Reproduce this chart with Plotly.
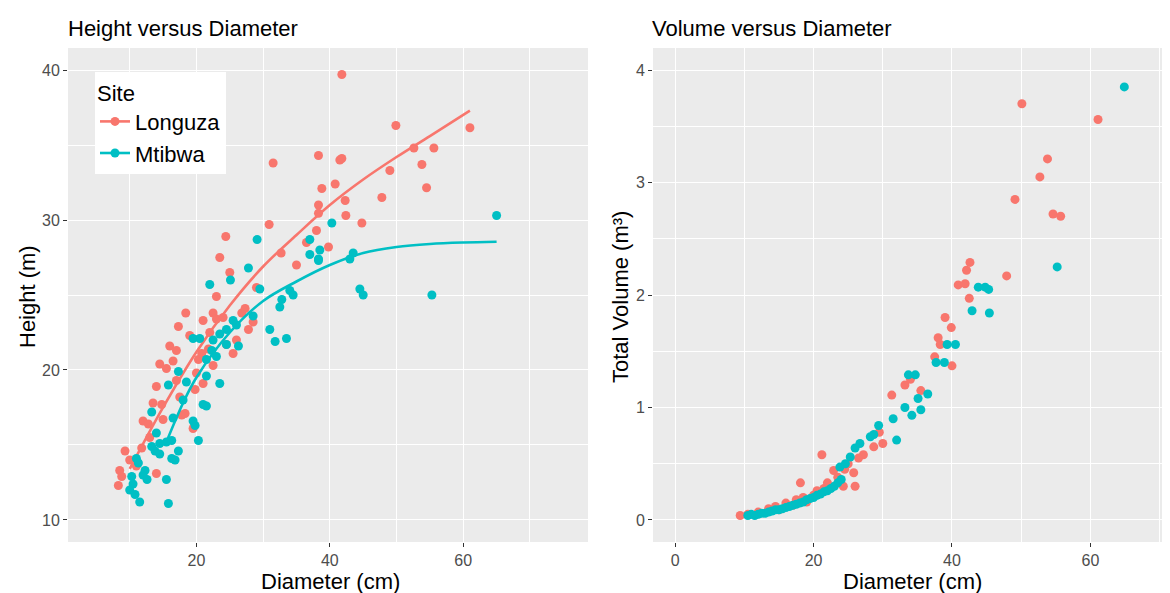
import plotly.graph_objects as go

# ---------------- data ----------------
longuza_diam = [41.8, 49.9, 61.0, 38.3, 41.5, 41.8, 52.6, 55.6, 53.8, 49.0, 38.8, 40.8, 54.5, 47.8,
                38.3, 38.3, 42.3, 42.4, 44.8, 38.0, 39.8, 31.5, 30.9, 24.4, 23.5, 32.7, 23.0, 18.4,
                21.0, 22.5, 23.0, 17.3, 26.8, 27.3, 28.5, 27.8, 16.0, 17.0, 14.5, 15.5, 20.3, 20.8,
                21.8, 25.5, 14.0, 19.8, 21.0, 17.5, 14.8, 12.0, 12.8, 17.8, 18.3, 15.0, 19.5, 9.3,
                11.8, 8.5, 8.8, 8.3, 14.0, 20.0, 22.0, 16.5, 19.0, 24.0, 26.0, 17.0, 13.0, 10.0,
                11.0, 13.5, 22.5, 24.5, 29.0, 35.0, 36.5, 25.0]
longuza_height = [39.7, 36.3, 36.15, 34.3, 34.0, 34.1, 34.8, 34.8, 33.7, 33.3, 32.1, 32.4, 32.15, 31.5,
                  31.0, 30.45, 31.3, 30.3, 29.8, 29.3, 28.2, 33.8, 29.7, 28.9, 27.5, 27.8, 24.9, 23.8,
                  23.3, 23.8, 23.4, 22.9, 23.8, 24.1, 23.2, 22.7, 21.6, 21.3, 20.4, 20.1, 20.7, 21.1,
                  21.4, 21.1, 18.9, 18.7, 19.1, 18.2, 17.7, 16.6, 16.4, 17.0, 17.1, 16.7, 16.1, 14.6,
                  14.8, 13.3, 12.9, 12.3, 13.1, 19.8, 22.5, 20.6, 22.3, 23.5, 22.0, 19.3, 15.5, 14.0,
                  13.6, 17.8, 20.3, 21.7, 25.5, 27.0, 28.5, 26.5]

mtibwa_diam = [27.8, 25.1, 22.0, 29.5, 34.0, 34.5, 32.8, 32.5, 37.0, 38.3, 31.0, 31.8, 33.5, 25.5,
               24.5, 23.5, 19.5, 20.5, 22.5, 22.3, 23.0, 21.5, 24.5, 26.3, 17.3, 18.5, 15.8, 21.5,
               23.5, 21.0, 21.5, 19.5, 19.8, 20.3, 13.3, 13.3, 14.5, 15.5, 16.3, 13.8, 14.5, 17.3,
               16.3, 16.8, 11.0, 11.3, 12.3, 12.6, 10.3, 10.5, 10.0, 10.8, 11.5, 15.5, 15.8, 40.3,
               37.0, 38.5, 38.3, 43.5, 43.0, 44.5, 45.0, 55.3, 65.0, 29.1, 18.0, 16.5, 12.0, 14.0,
               26.0, 28.5]
mtibwa_height = [26.8, 26.0, 25.7, 25.4, 25.3, 25.0, 24.7, 24.2, 27.7, 27.3, 22.7, 21.9, 22.1, 23.3,
                 22.7, 22.4, 22.1, 22.1, 22.0, 21.3, 20.9, 20.7, 21.7, 21.6, 19.9, 19.2, 19.0, 19.6,
                 19.1, 17.7, 17.6, 16.6, 16.3, 15.3, 17.2, 14.9, 15.1, 15.2, 15.3, 14.6, 14.4, 14.6,
                 14.1, 14.0, 14.1, 13.8, 13.3, 12.7, 12.9, 12.4, 12.0, 11.7, 11.2, 12.7, 11.1, 29.8,
                 28.7, 28.0, 27.4, 27.8, 27.4, 25.4, 25.0, 25.0, 30.3, 28.7, 18.0, 16.8, 13.0, 15.8,
                 23.0, 23.6]

# fitted curves (read at several diameters)
longuza_fit_d = [10, 15, 20, 25, 30, 35, 40, 45, 50, 55, 61]
longuza_fit_h = [13.4, 17.5, 21.2, 24.3, 26.9, 29.0, 31.0, 32.7, 34.2, 35.6, 37.3]
mtibwa_fit_d = [15.5, 18, 20, 25, 30, 35, 40, 45, 50, 55, 60, 65]
mtibwa_fit_h = [15.2, 17.8, 19.5, 22.5, 24.6, 25.9, 27.0, 27.8, 28.2, 28.4, 28.5, 28.55]

# volume panel
vol_longuza_d = [50.1, 61.1, 53.8, 52.7, 49.1, 54.6, 55.7, 42.6, 42.1, 47.9, 40.9, 41.9, 42.5, 39.0,
                 39.9, 38.3, 40.0, 33.2, 31.3, 28.7, 27.2, 25.8, 26.0, 24.3, 21.2, 18.1, 22.9, 9.4,
                 10.5, 12.0, 13.5, 14.5, 15.0, 16.0, 17.0, 17.5, 18.5, 19.0, 20.0, 20.5, 21.5, 22.0,
                 23.5, 24.5, 25.0, 26.5, 29.5, 30.0, 34.0, 35.5, 37.5, 38.0]
vol_longuza_v = [3.70, 3.56, 3.21, 3.05, 2.85, 2.72, 2.70, 2.29, 2.22, 2.17, 2.09, 2.10, 1.97, 1.80,
                 1.71, 1.56, 1.37, 1.20, 1.11, 0.65, 0.58, 0.42, 0.30, 0.30, 0.58, 0.33, 0.44, 0.04,
                 0.05, 0.07, 0.10, 0.12, 0.09, 0.15, 0.13, 0.18, 0.20, 0.16, 0.22, 0.26, 0.28, 0.33,
                 0.38, 0.45, 0.50, 0.55, 0.78, 0.68, 1.25, 1.15, 1.45, 1.62]
vol_mtibwa_d = [64.9, 55.2, 43.8, 44.8, 45.3, 42.9, 45.4, 40.5, 39.3, 37.7, 38.9, 33.7, 34.7, 33.2,
                35.1, 34.2, 31.5, 32.0, 29.4, 28.7, 28.2, 26.7, 26.0, 25.3, 24.6, 23.8, 10.5, 11.0,
                11.5, 12.0, 12.5, 13.0, 13.5, 14.0, 14.5, 15.0, 15.5, 16.0, 16.5, 17.0, 17.5, 18.0,
                18.5, 19.0, 19.5, 20.0, 20.5, 21.0, 21.5, 22.0, 22.5, 23.0, 23.5, 24.0, 35.5, 36.5]
vol_mtibwa_v = [3.85, 2.25, 2.07, 2.07, 2.05, 1.86, 1.84, 1.56, 1.56, 1.40, 1.40, 1.29, 1.29, 1.00,
                1.08, 0.93, 0.90, 0.71, 0.84, 0.76, 0.74, 0.68, 0.64, 0.56, 0.50, 0.47, 0.04, 0.05,
                0.04, 0.05, 0.06, 0.06, 0.07, 0.08, 0.09, 0.09, 0.10, 0.11, 0.12, 0.13, 0.14, 0.15,
                0.16, 0.18, 0.19, 0.20, 0.22, 0.23, 0.25, 0.26, 0.28, 0.30, 0.33, 0.36, 0.98, 1.12]

sites = ["Longuza", "Mtibwa"]
colors = ["#F8766D", "#00BFC4"]

# ---------------- figure ----------------
OFF = 8  # page body margin of the html output
W, H = 1170 - OFF, 593 - OFF
ML, MR, MT, MB = 68 - OFF, 0, 48 - OFF, 51
PW = W - ML - MR
PH = H - MT - MB


def px_x(p):
    return (p - OFF - ML) / PW


def px_y(p):
    return (H - MB - (p - OFF)) / PH


fig = go.Figure()
MS = 9
for name, col, d, h, fd, fh in [
    (sites[0], colors[0], longuza_diam, longuza_height, longuza_fit_d, longuza_fit_h),
    (sites[1], colors[1], mtibwa_diam, mtibwa_height, mtibwa_fit_d, mtibwa_fit_h),
]:
    fig.add_trace(go.Scatter(x=d, y=h, mode="markers", marker=dict(size=MS, color=col),
                             showlegend=False, xaxis="x", yaxis="y"))
    fig.add_trace(go.Scatter(x=fd, y=fh, mode="lines", line=dict(color=col, width=2.6, shape="spline"),
                             showlegend=False, xaxis="x", yaxis="y"))

for name, col, d, v in [
    (sites[0], colors[0], vol_longuza_d, vol_longuza_v),
    (sites[1], colors[1], vol_mtibwa_d, vol_mtibwa_v),
]:
    fig.add_trace(go.Scatter(x=d, y=v, mode="markers", marker=dict(size=MS, color=col),
                             showlegend=False, xaxis="x2", yaxis="y2"))

# legend entries
for name, col in zip(sites, colors):
    fig.add_trace(go.Scatter(x=[None], y=[None], mode="lines+markers", name=name,
                             marker=dict(size=MS, color=col), line=dict(color=col, width=2.6),
                             xaxis="x", yaxis="y"))

FAM = "Liberation Sans, Arial, sans-serif"
tickfont = dict(family=FAM, size=16, color="#4D4D4D")
common = dict(showgrid=True, gridcolor="white", gridwidth=1.4, zeroline=False,
              ticks="outside", ticklen=4, tickcolor="#333333", tickwidth=1,
              tickfont=tickfont, showline=False)

lx = 520 / PW
rx0 = (653 - OFF - ML) / PW
fig.update_layout(
    width=W, height=H,
    margin=dict(l=ML, r=MR, t=MT, b=MB),
    paper_bgcolor="white", plot_bgcolor="#EBEBEB",
    font=dict(family=FAM, color="black"),
    xaxis=dict(domain=[0, lx], range=[0.75, 78.7], tickvals=[20, 40, 60], anchor="y",
               minor=dict(tickvals=[10, 30, 50, 70], showgrid=True, gridcolor="white", gridwidth=0.7, ticks=""),
               **common),
    yaxis=dict(domain=[0, 1], range=[8.53, 41.47], tickvals=[10, 20, 30, 40], anchor="x",
               minor=dict(tickvals=[15, 25, 35], showgrid=True, gridcolor="white", gridwidth=0.7, ticks=""),
               **common),
    xaxis2=dict(domain=[rx0, 1], range=[-3.2, 71.5], tickvals=[0, 20, 40, 60], anchor="y2",
                minor=dict(tickvals=[10, 30, 50, 70], showgrid=True, gridcolor="white", gridwidth=0.7, ticks=""),
                **common),
    yaxis2=dict(domain=[0, 1], range=[-0.196, 4.196], tickvals=[0, 1, 2, 3, 4], anchor="x2",
                minor=dict(tickvals=[0.5, 1.5, 2.5, 3.5], showgrid=True, gridcolor="white", gridwidth=0.7, ticks=""),
                **common),
    legend=dict(x=px_x(95), y=px_y(72), xanchor="left", yanchor="top",
                bgcolor="white", borderwidth=0,
                font=dict(size=22, color="black"),
                title=dict(text="Site", font=dict(size=22, color="black")),
                tracegroupgap=0, itemwidth=30),
)

ann_font = dict(family=FAM, size=22, color="black")
annotations = [
    dict(text="Height versus Diameter", x=px_x(66), y=px_y(28), xanchor="left", yanchor="middle"),
    dict(text="Volume versus Diameter", x=px_x(650), y=px_y(28), xanchor="left", yanchor="middle"),
    dict(text="Diameter (cm)", x=px_x(330), y=px_y(581), xanchor="center", yanchor="middle", font=dict(size=22)),
    dict(text="Diameter (cm)", x=px_x(912), y=px_y(581), xanchor="center", yanchor="middle", font=dict(size=22)),
    dict(text="Height (m)", x=px_x(27), y=px_y(297), xanchor="center", yanchor="middle", textangle=-90, font=dict(size=22)),
    dict(text="Total Volume (m³)", x=px_x(620), y=px_y(297), xanchor="center", yanchor="middle", textangle=-90, font=dict(size=22)),
]
for a in annotations:
    f = dict(ann_font)
    f.update(a.get("font", {}))
    a.update(xref="paper", yref="paper", showarrow=False, font=f)
fig.update_layout(annotations=annotations)

fig.write_html("out.html")
